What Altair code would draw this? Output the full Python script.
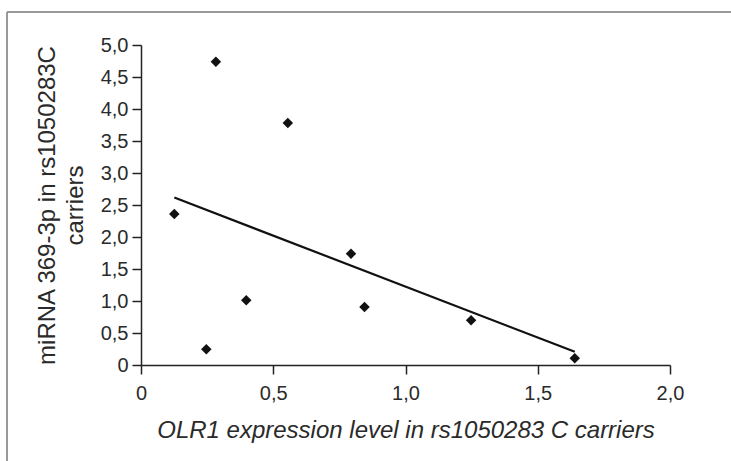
import altair as alt
import pandas as pd

# Data
olr1_expr = [0.126, 0.283, 0.555, 0.398, 0.247, 0.794, 0.845, 1.248, 1.640]
mirna_369 = [2.36, 4.74, 3.78, 1.01, 0.245, 1.74, 0.906, 0.70, 0.105]

x_ticks = [0, 0.5, 1.0, 1.5, 2.0]
y_ticks = [0, 0.5, 1.0, 1.5, 2.0, 2.5, 3.0, 3.5, 4.0, 4.5, 5.0]

x_title = "OLR1 expression level in rs1050283 C carriers"
y_title = ["miRNA 369-3p in rs1050283C", "carriers"]

df = pd.DataFrame({"x": olr1_expr, "y": mirna_369})

FONT = "Liberation Sans"
W, H = 529, 320
PAD_L, PAD_T = 141, 45

label_expr = "datum.value == 0 ? '0' : replace(format(datum.value, '.1f'), '.', ',')"

common = dict(
    titleFontWeight="normal",
    titleColor="#2a2a2a",
    titleFont=FONT,
    labelFont=FONT,
    labelFontSize=20,
    labelColor="#2a2a2a",
    labelOverlap=False,
    labelFlush=False,
    tickSize=9,
    tickColor="#222222",
    domainColor="#222222",
    domainWidth=1.5,
    tickWidth=1.5,
    grid=False,
)

x_axis = alt.Axis(
    values=x_ticks,
    labelExpr=label_expr,
    title=x_title,
    titleFontStyle="italic",
    titleFontSize=24,
    titlePadding=15,
    labelPadding=9,
    **common,
)
y_axis = alt.Axis(
    values=y_ticks,
    labelExpr=label_expr,
    title=y_title,
    titleFontSize=24,
    titleLineHeight=28,
    titlePadding=13,
    labelPadding=4,
    **common,
)

x_scale = alt.Scale(domain=[0, 2], nice=False, zero=True)
y_scale = alt.Scale(domain=[0, 5], nice=False)

points = alt.Chart(df).mark_point(
    shape="diamond", filled=True, color="#111111", size=110, opacity=1
).encode(
    x=alt.X("x:Q", scale=x_scale, axis=x_axis),
    y=alt.Y("y:Q", scale=y_scale, axis=y_axis),
)

reg = alt.Chart(df).transform_regression("x", "y").mark_line(
    color="#111111", strokeWidth=2.2
).encode(
    x=alt.X("x:Q", scale=x_scale, axis=x_axis),
    y=alt.Y("y:Q", scale=y_scale, axis=y_axis),
)

frame_top = alt.Chart(df).mark_rule(color="#999999", strokeWidth=2).encode(
    x=alt.value(7 - PAD_L), x2=alt.value(731 - PAD_L), y=alt.value(12 - PAD_T)
)
frame_left = alt.Chart(df).mark_rule(color="#999999", strokeWidth=2).encode(
    x=alt.value(7 - PAD_L), y=alt.value(12 - PAD_T), y2=alt.value(461 - PAD_T)
)

chart = alt.layer(frame_top, frame_left, reg, points).properties(
    width=W,
    height=H,
    autosize=alt.AutoSizeParams(type="none"),
    padding={"left": PAD_L, "top": PAD_T, "right": 731 - PAD_L - W, "bottom": 461 - PAD_T - H},
    background="white",
).configure_view(stroke=None)

chart.save("out.html", embed_options={"renderer": "svg", "actions": False})
